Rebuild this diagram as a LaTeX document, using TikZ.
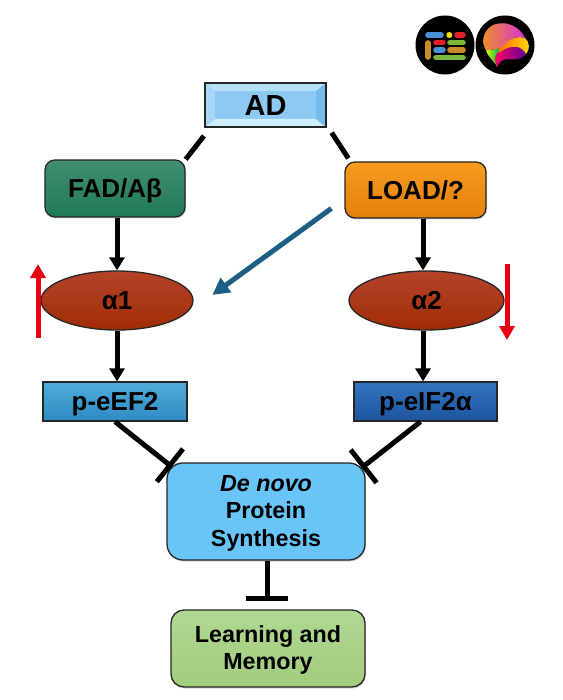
\documentclass[tikz,border=0pt]{standalone}
\usepackage{fontspec}
\setmainfont{Liberation Sans}
\usepackage{tikz}
\usetikzlibrary{shapes,arrows.meta,positioning,shadows}
\definecolor{adblue}{HTML}{8EC9F2}
\definecolor{adtop}{HTML}{B4E0F8}
\definecolor{adbot}{HTML}{CDEEFB}
\definecolor{adleft}{HTML}{A6D8F6}
\definecolor{adright}{HTML}{78BBE9}
\definecolor{fadtop}{HTML}{418F70}
\definecolor{fadbot}{HTML}{1F7A58}
\definecolor{loadtop}{HTML}{F79C1E}
\definecolor{loadbot}{HTML}{E5800C}
\definecolor{alphatop}{HTML}{B5432A}
\definecolor{alphabot}{HTML}{A02C05}
\definecolor{eeftop}{HTML}{50ACD9}
\definecolor{eefbot}{HTML}{2E8AC2}
\definecolor{eiftop}{HTML}{3474BE}
\definecolor{eifbot}{HTML}{1E559F}
\definecolor{dnblue}{HTML}{69C4F7}
\definecolor{lmtop}{HTML}{B0D892}
\definecolor{lmbot}{HTML}{A2CC7E}
\definecolor{upred}{HTML}{E60012}
\definecolor{linkblue}{HTML}{1F5F85}
\definecolor{logoblue}{HTML}{4A90D9}
\definecolor{logored}{HTML}{E0202A}
\definecolor{logoorange}{HTML}{C98A2D}
\definecolor{logogreen}{HTML}{7AB93B}
\tikzset{
  lbl/.style={font=\bfseries\fontsize{26}{30}\selectfont, text height=18.6pt, text depth=0pt},
  lblb/.style={font=\bfseries\fontsize{23.3}{27.5}\selectfont, align=center, text depth=2pt},
  boxn/.style={draw=black!85, line width=1.3pt, inner sep=0pt},
  rbox/.style={boxn, rounded corners=10pt, drop shadow={shadow xshift=1pt, shadow yshift=-1.5pt, opacity=.3}},
  oval/.style={boxn, ellipse, top color=alphatop, bottom color=alphabot, minimum width=154pt, minimum height=59pt},
  link/.style={line width=5pt, black},
  arr/.style={line width=5pt, black, -{Triangle[width=15pt, length=13pt]}},
  tbar/.style={line width=5pt, black, -{Bar[width=42pt, length=5pt]}},
  redarr/.style={line width=5pt, upred, -{Triangle[width=15pt, length=14pt]}},
  logobar/.style={line width=5.6pt, line cap=round}
}
\begin{document}
\begin{tikzpicture}[x=1pt, y=-1pt]
  \useasboundingbox (0,0) rectangle (562,700);
  \fill[white] (0,0) rectangle (562,700);
  \node[boxn, lbl, fill=adblue, minimum width=121pt, minimum height=44pt, font=\bfseries\fontsize{29}{32}\selectfont, text height=20.8pt,
    path picture={
      \fill[adtop] (path picture bounding box.north west) -- (path picture bounding box.north east) -- ++(-10pt,-8pt) -- ([shift={(10pt,-8pt)}]path picture bounding box.north west) -- cycle;
      \fill[adbot] (path picture bounding box.south west) -- (path picture bounding box.south east) -- ++(-10pt,8pt) -- ([shift={(10pt,8pt)}]path picture bounding box.south west) -- cycle;
      \fill[adleft] (path picture bounding box.north west) -- (path picture bounding box.south west) -- ++(10pt,8pt) -- ([shift={(10pt,-8pt)}]path picture bounding box.north west) -- cycle;
      \fill[adright] (path picture bounding box.north east) -- (path picture bounding box.south east) -- ++(-10pt,8pt) -- ([shift={(-10pt,-8pt)}]path picture bounding box.north east) -- cycle;
    }] (ad) at (265.5,105) {AD};
  \node[rbox, lbl, top color=fadtop, bottom color=fadbot, minimum width=140pt, minimum height=57pt] (fad) at (115,188.5) {FAD/Aβ};
  \node[rbox, lbl, top color=loadtop, bottom color=loadbot, minimum width=141pt, minimum height=56pt] (load) at (415.5,190) {LOAD/?};
  \node[oval, lbl, minimum width=152pt] (a1) at (117,300.5) {α1};
  \node[oval, lbl, minimum width=155pt] (a2) at (426.5,300.5) {α2};
  \node[boxn, lbl, top color=eeftop, bottom color=eefbot, minimum width=144pt, minimum height=39pt] (eef) at (115,401.5) {p-eEF2};
  \node[boxn, lbl, top color=eiftop, bottom color=eifbot, minimum width=143pt, minimum height=39pt] (eif) at (425.5,401.5) {p-eIF2α};
  \node[rbox, lblb, fill=dnblue, minimum width=198pt, minimum height=97pt, rounded corners=16pt] (dn) at (266,511.5) {\textit{De novo}\\Protein\\Synthesis};
  \node[rbox, lblb, top color=lmtop, bottom color=lmbot, minimum width=194pt, minimum height=77pt, rounded corners=13pt] (lm) at (268,648.5) {Learning and\\Memory};

  \draw[link, shorten <=10.5pt] ([xshift=6pt]ad.south west) -- (fad.north east);
  \draw[link, shorten <=6pt, shorten >=3.6pt] ([xshift=1.7pt]ad.south east) -- ([xshift=6pt]load.north west);
  \draw[arr] (fad.south -| a1.north) -- (a1.north);
  \draw[arr] ([xshift=7.5pt]load.south) -- ([xshift=-3.5pt]a2.north);
  \draw[arr] (a1.south) -- (a1.south |- eef.north);
  \draw[arr] ([xshift=-3.5pt]a2.south) -- ([xshift=-2.5pt]eif.north);
  \draw[line width=5pt, linkblue, -{Triangle[width=17pt, length=17pt]}, shorten <=16pt, shorten >=23pt] ([yshift=-9pt]load.west) -- ([yshift=-8pt]a1.east);
  \draw[tbar] (eef.south) -- ([shift={(5.5pt,-4.5pt)}]dn.north west);
  \draw[tbar] ([shift={(-5pt,0pt)}]eif.south) -- ([shift={(-4pt,-5.5pt)}]dn.north east);
  \draw[tbar, shorten >=8.5pt] ([xshift=1pt]dn.south) -- ([xshift=-1pt]lm.north);

  \coordinate (upfoot) at (38,338);
  \coordinate (uptip) at (38,264);
  \coordinate (downfoot) at (507,264);
  \coordinate (downtip) at (507,340);
  \draw[redarr] (upfoot) -- (uptip);
  \draw[redarr] (downfoot) -- (downtip);

  \fill[black] (445,45) circle (29.5);
  \draw[logobar, logoblue] (428,35) -- (441,35);
  \fill[yellow!85!orange] (449.3,35) circle (3);
  \draw[logobar, logored] (457,35) -- (463,35);
  \draw[logobar, logoorange] (428,43) -- (428,57);
  \draw[logobar, logored] (436,42.5) -- (443,42.5);
  \draw[logobar, logogreen] (450,42.5) -- (463,42.5);
  \draw[logobar, logoblue] (436,50) -- (443,50);
  \draw[logobar, logoorange] (450,50) -- (463,50);
  \draw[logobar, logogreen] (436,57.5) -- (463,57.5);

  \fill[black] (505,45) circle (29.5);
  \shade[left color=yellow!80!green, right color=teal!70!green] (486,50) .. controls (490,50) and (495,50) .. (500,47) .. controls (499,54) and (498,60) .. (497,67) .. controls (494,60) and (488,58) .. (486,50) -- cycle;
  \shade[left color=red!60!magenta, right color=violet!80!blue] (497,53) .. controls (503,50) and (512,43) .. (521,47) .. controls (526,50) and (526,53) .. (526,54) .. controls (522,60) and (514,60) .. (506,59) .. controls (501,60) and (499,63) .. (497,67) .. controls (495,62) and (494,58) .. (497,53) -- cycle;
  \shade[left color=orange!90!red, right color=yellow!70!orange] (499,47) .. controls (508,40) and (515,35) .. (525,38) .. controls (530,42) and (530,50) .. (526,54) .. controls (522,46) and (512,43) .. (499,53) -- cycle;
  \shade[left color=orange!70!brown!90, right color=magenta!60!violet!80] (483.5,39) .. controls (484,31) and (491,24) .. (499,23.5) .. controls (508,22) and (520,27) .. (525,38) .. controls (515,35) and (508,40) .. (503,46) .. controls (497,50) and (490,50) .. (486,50) .. controls (484,47) and (483,43) .. (483.5,39) -- cycle;
\end{tikzpicture}
\end{document}
